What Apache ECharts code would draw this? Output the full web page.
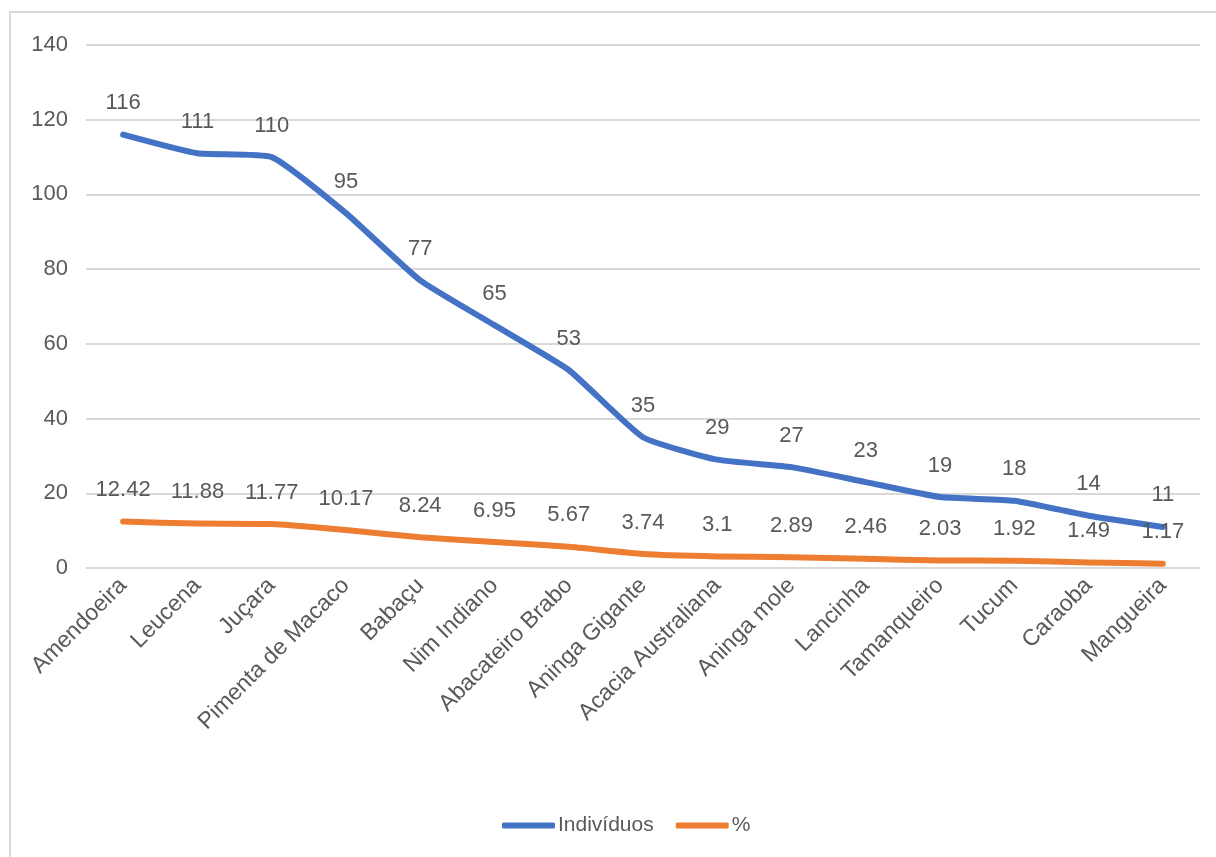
<!DOCTYPE html>
<html>
<head>
<meta charset="utf-8">
<script src="https://cdn.jsdelivr.net/npm/echarts@6/dist/echarts.min.js"></script>
<style>
  html, body { margin: 0; padding: 0; background: #fff; }
  #chart { width: 1216px; height: 857px; }
</style>
</head>
<body>
<div id="chart"></div>
<script>
// ── 数据 ──
const species = ['Amendoeira', 'Leucena', 'Juçara', 'Pimenta de Macaco', 'Babaçu', 'Nim Indiano',
  'Abacateiro Brabo', 'Aninga Gigante', 'Acacia Australiana', 'Aninga mole', 'Lancinha',
  'Tamanqueiro', 'Tucum', 'Caraoba', 'Mangueira']
const individuos = [116, 111, 110, 95, 77, 65, 53, 35, 29, 27, 23, 19, 18, 14, 11]
const percent = [12.42, 11.88, 11.77, 10.17, 8.24, 6.95, 5.67, 3.74, 3.1, 2.89, 2.46, 2.03, 1.92, 1.49, 1.17]
const yTicks = { min: 0, max: 140, interval: 20 }

const textColor = '#595959'
const font = '"Liberation Sans", Arial, sans-serif'

const chart = echarts.init(document.getElementById('chart'))

function lineSeries(name, data, color) {
  return {
    type: 'line', name, data, smooth: 0.15,
    symbol: 'circle', symbolSize: 1,
    lineStyle: { color, width: 6, cap: 'round', join: 'round' },
    itemStyle: { color },
    label: {
      show: true, position: 'top', distance: 20,
      color: textColor, fontSize: 22, fontFamily: font,
    },
    emphasis: { disabled: true },
  }
}

chart.setOption({
  animation: false,
  textStyle: { fontFamily: font },
  graphic: [{
    type: 'polyline', silent: true,
    shape: { points: [[10, 857], [10, 12], [1216, 12]] },
    style: { stroke: '#d9d9d9', lineWidth: 2, fill: null },
  }],
  grid: { left: 86, right: 16, top: 45, bottom: 289 },
  legend: {
    left: 497, top: 810,
    icon: 'roundRect', itemWidth: 53, itemHeight: 6, itemGap: 22,
    textStyle: { color: textColor, fontSize: 21, fontFamily: font, padding: [0, 0, 0, -2] },
    data: ['Indivíduos', '%'],
  },
  xAxis: {
    type: 'category', data: species, boundaryGap: true,
    axisLine: { show: false }, axisTick: { show: false },
    axisLabel: { rotate: 45, interval: 0, color: textColor, fontSize: 23, fontFamily: font, margin: 14 },
  },
  yAxis: {
    type: 'value', min: yTicks.min, max: yTicks.max, interval: yTicks.interval,
    axisLine: { show: false }, axisTick: { show: false },
    axisLabel: { color: textColor, fontSize: 22, fontFamily: font, margin: 18 },
    splitLine: { lineStyle: { color: '#d9d9d9', width: 2 } },
  },
  series: [
    lineSeries('Indivíduos', individuos, '#4472C4'),
    lineSeries('%', percent, '#ED7D31'),
  ],
})
</script>
</body>
</html>
